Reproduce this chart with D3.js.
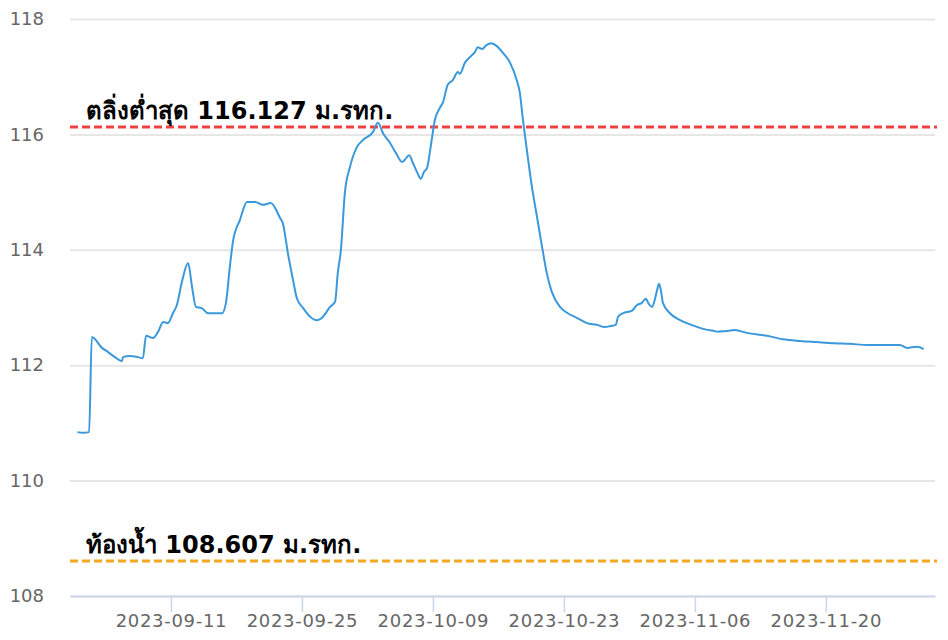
<!DOCTYPE html>
<html>
<head>
<meta charset="utf-8">
<script src="https://cdn.jsdelivr.net/npm/d3@7"></script>
<style>
  html, body { margin: 0; padding: 0; background: #ffffff; }
  svg { display: block; }
</style>
</head>
<body>
<div id="chart"></div>
<script>
// ---- data ----
const times = [
  "2023-09-01 00","2023-09-01 14","2023-09-02 06","2023-09-02 13","2023-09-03 15","2023-09-04 06",
  "2023-09-05 00","2023-09-05 18","2023-09-05 21","2023-09-06 15","2023-09-07 11","2023-09-08 00",
  "2023-09-08 08","2023-09-09 02","2023-09-09 15","2023-09-10 04","2023-09-10 16","2023-09-11 05",
  "2023-09-11 15","2023-09-12 04","2023-09-12 20","2023-09-13 06","2023-09-13 16","2023-09-14 07",
  "2023-09-14 23","2023-09-15 22","2023-09-16 11","2023-09-16 21","2023-09-17 07","2023-09-17 15",
  "2023-09-18 09","2023-09-19 03","2023-09-20 00","2023-09-20 20","2023-09-21 16","2023-09-22 16",
  "2023-09-22 23","2023-09-23 12","2023-09-24 01","2023-09-24 11","2023-09-25 03","2023-09-25 21",
  "2023-09-26 14","2023-09-27 06","2023-09-28 00","2023-09-28 13","2023-09-28 20","2023-09-29 04",
  "2023-09-29 14","2023-09-30 03","2023-09-30 21","2023-10-01 12","2023-10-02 14","2023-10-03 03",
  "2023-10-03 16","2023-10-04 10","2023-10-05 01","2023-10-05 17","2023-10-06 00","2023-10-06 11",
  "2023-10-06 21","2023-10-07 07","2023-10-07 17","2023-10-08 01","2023-10-08 09","2023-10-08 19",
  "2023-10-09 05","2023-10-09 18","2023-10-10 02","2023-10-10 14","2023-10-11 03","2023-10-11 16",
  "2023-10-11 21","2023-10-12 10","2023-10-12 23","2023-10-13 12","2023-10-13 19","2023-10-14 06",
  "2023-10-14 18","2023-10-15 05","2023-10-15 20","2023-10-16 12","2023-10-17 06","2023-10-17 23",
  "2023-10-18 07","2023-10-18 15","2023-10-19 01","2023-10-19 14","2023-10-20 03","2023-10-20 16",
  "2023-10-21 04","2023-10-21 17","2023-10-22 14","2023-10-23 10","2023-10-24 09","2023-10-25 11",
  "2023-10-26 13","2023-10-27 09","2023-10-28 00","2023-10-28 13","2023-10-28 19","2023-10-29 07",
  "2023-10-30 06","2023-10-30 19","2023-10-31 08","2023-10-31 18","2023-11-01 02","2023-11-01 10",
  "2023-11-01 17","2023-11-01 23","2023-11-02 04","2023-11-02 09","2023-11-02 14","2023-11-03 08",
  "2023-11-04 10","2023-11-05 11","2023-11-06 21","2023-11-08 03","2023-11-08 11","2023-11-09 05",
  "2023-11-10 07","2023-11-11 13","2023-11-13 17","2023-11-15 10","2023-11-17 06","2023-11-19 01",
  "2023-11-20 23","2023-11-22 13","2023-11-24 12","2023-11-26 02","2023-11-27 22","2023-11-28 16",
  "2023-11-29 18","2023-11-30 11"
];
const levels = [
  110.84,110.83,110.84,112.49,112.30,112.23,
  112.14,112.07,112.14,112.16,112.14,112.12,
  112.51,112.47,112.58,112.75,112.73,112.90,
  113.04,113.44,113.77,113.36,113.01,112.99,
  112.90,112.90,112.90,113.08,113.70,114.14,
  114.52,114.83,114.83,114.78,114.81,114.55,
  114.46,113.94,113.48,113.16,112.99,112.84,
  112.78,112.84,113.01,113.10,113.60,114.00,
  114.98,115.43,115.78,115.90,116.04,116.20,
  116.02,115.85,115.68,115.52,115.56,115.64,
  115.50,115.35,115.23,115.35,115.42,115.82,
  116.25,116.46,116.56,116.86,116.94,117.08,
  117.05,117.24,117.34,117.43,117.51,117.48,
  117.55,117.58,117.53,117.41,117.24,116.94,
  116.72,116.25,115.73,115.09,114.57,114.05,
  113.60,113.27,113.01,112.90,112.82,112.73,
  112.70,112.66,112.68,112.70,112.84,112.90,
  112.94,113.04,113.08,113.15,113.06,113.01,
  113.13,113.30,113.41,113.29,113.08,112.90,
  112.78,112.71,112.63,112.59,112.58,112.59,
  112.61,112.56,112.51,112.45,112.42,112.40,
  112.38,112.37,112.35,112.35,112.35,112.30,
  112.32,112.28
];
const xTickLabels = ["2023-09-11","2023-09-25","2023-10-09","2023-10-23","2023-11-06","2023-11-20"];
const yTicks = [108, 110, 112, 114, 116, 118];
const bankLevel = 116.127;
const bankLabel = "ตลิ่งต่ำสุด 116.127 ม.รทก.";
const bedLevel = 108.607;
const bedLabel = "ท้องน้ำ 108.607 ม.รทก.";
const xDomain = ["2023-08-31 05", "2023-12-01 16"];

// ---- chart ----
(function () {
const W = 948, H = 640;
const mLeft = 70, mRight = 935, mTop = 19, mBottom = 596;
const parse = d3.timeParse("%Y-%m-%d %H");
const parseDay = d3.timeParse("%Y-%m-%d");
const data = times.map((t, i) => ({ t: parse(t), v: levels[i] }));

const x = d3.scaleTime().domain(xDomain.map(parse)).range([mLeft, mRight]);
const y = d3.scaleLinear().domain([108, 118]).range([mBottom, mTop]);

const svg = d3.select("#chart").append("svg").attr("width", W).attr("height", H);

const tickFont = "'DejaVu Sans', sans-serif";

// grid + y labels
const yAxis = d3.axisLeft(y).tickValues(yTicks).tickSize(-(mRight - mLeft)).tickSizeOuter(0)
  .tickFormat(d3.format("d")).tickPadding(26);
const gy = svg.append("g").attr("transform", `translate(${mLeft},0)`).call(yAxis);
gy.select(".domain").remove();
gy.selectAll(".tick line").attr("stroke", "#e6e6e6").attr("stroke-width", 2);
gy.selectAll(".tick text")
  .attr("fill", "#666666").style("font-family", tickFont)
  .style("font-size", "18px");

// threshold lines
svg.append("line").attr("x1", mLeft).attr("x2", mRight + 2)
  .attr("y1", y(bedLevel)).attr("y2", y(bedLevel))
  .attr("stroke", "#f5a623").attr("stroke-width", 3).attr("stroke-dasharray", "8,4");
svg.append("line").attr("x1", mLeft).attr("x2", mRight + 2)
  .attr("y1", y(bankLevel)).attr("y2", y(bankLevel))
  .attr("stroke", "#f0403f").attr("stroke-width", 3).attr("stroke-dasharray", "8,4");

// x axis
const xAxis = d3.axisBottom(x).tickValues(xTickLabels.map(parseDay))
  .tickFormat(d3.timeFormat("%Y-%m-%d")).tickSize(16).tickSizeOuter(0).tickPadding(2);
const gx = svg.append("g").attr("transform", `translate(0,${mBottom})`).call(xAxis);
gx.select(".domain").attr("stroke", "#ccd6eb").attr("stroke-width", 2);
gx.selectAll(".tick line").attr("stroke", "#ccd6eb").attr("stroke-width", 1.5);
gx.selectAll(".tick text")
  .attr("fill", "#666666").style("font-family", tickFont)
  .style("font-size", "18px").style("letter-spacing", "0.7px");

// series
const line = d3.line().x(d => x(d.t)).y(d => y(d.v)).curve(d3.curveMonotoneX);
svg.append("path").datum(data).attr("d", line)
  .attr("fill", "none").attr("stroke", "#3a98db").attr("stroke-width", 2)
  .attr("stroke-linejoin", "round");

// labels
const labelFont = "Tahoma, 'DejaVu Sans', 'Noto Sans', sans-serif";
svg.append("text").attr("x", 86).attr("y", y(bankLevel) - 8)
  .text(bankLabel).attr("fill", "#000").style("font-family", labelFont)
  .style("font-weight", "bold").style("font-size", "24px");
svg.append("text").attr("x", 86).attr("y", y(bedLevel) - 8)
  .text(bedLabel).attr("fill", "#000").style("font-family", labelFont)
  .style("font-weight", "bold").style("font-size", "24px");
})();
</script>
</body>
</html>
